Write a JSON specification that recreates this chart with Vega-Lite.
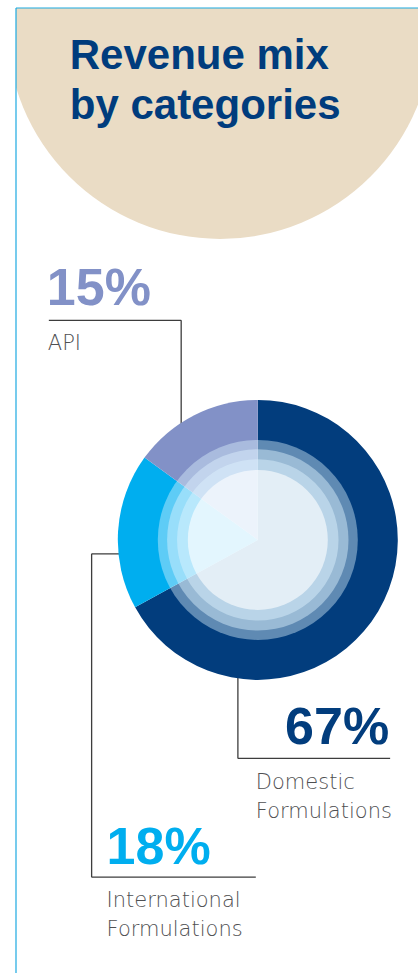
{
  "$schema": "https://vega.github.io/schema/vega-lite/v6.json",
  "width": 419,
  "height": 974,
  "autosize": {"type": "fit", "contains": "padding"},
  "padding": {"left": 15, "top": 7, "right": 0, "bottom": 0},
  "background": "white",
  "view": {"stroke": null},
  "datasets": {
    "mix": [
      {"category": "Domestic Formulations", "share": 0.67},
      {"category": "International Formulations", "share": 0.18},
      {"category": "API", "share": 0.15}
    ]
  },
  "data": {"values": [{}]},
  "layer": [
    {
      "mark": {"type": "arc", "radius": 213, "theta": 0, "theta2": 6.2832, "fill": "#eadcc5", "clip": true},
      "encoding": {
        "x": {"datum": 220, "type": "quantitative", "scale": {"domain": [15, 419], "nice": false, "zero": false}, "axis": null},
        "y": {"datum": 25, "type": "quantitative", "scale": {"domain": [7, 974], "nice": false, "zero": false, "reverse": true}, "axis": null}
      }
    },
    {
      "mark": {"type": "text", "text": ["Revenue mix", "by categories"], "align": "left", "baseline": "alphabetic", "font": "Liberation Sans", "fontWeight": "bold", "fontSize": 42, "lineHeight": 50, "color": "#003c7d"},
      "encoding": {
        "x": {"datum": 69, "type": "quantitative", "scale": {"domain": [15, 419], "nice": false, "zero": false}, "axis": null},
        "y": {"datum": 68, "type": "quantitative", "scale": {"domain": [7, 974], "nice": false, "zero": false, "reverse": true}, "axis": null}
      }
    },
    {
      "mark": {"type": "rule", "color": "#3d3d3d", "strokeWidth": 1.3},
      "encoding": {
        "x": {"datum": 48, "type": "quantitative", "scale": {"domain": [15, 419], "nice": false, "zero": false}, "axis": null},
        "x2": {"datum": 181},
        "y": {"datum": 320, "type": "quantitative", "scale": {"domain": [7, 974], "nice": false, "zero": false, "reverse": true}, "axis": null},
        "y2": {"datum": 320}
      }
    },
    {
      "mark": {"type": "rule", "color": "#3d3d3d", "strokeWidth": 1.3},
      "encoding": {
        "x": {"datum": 181, "type": "quantitative", "scale": {"domain": [15, 419], "nice": false, "zero": false}, "axis": null},
        "x2": {"datum": 181},
        "y": {"datum": 320, "type": "quantitative", "scale": {"domain": [7, 974], "nice": false, "zero": false, "reverse": true}, "axis": null},
        "y2": {"datum": 450}
      }
    },
    {
      "mark": {"type": "rule", "color": "#3d3d3d", "strokeWidth": 1.3},
      "encoding": {
        "x": {"datum": 91, "type": "quantitative", "scale": {"domain": [15, 419], "nice": false, "zero": false}, "axis": null},
        "x2": {"datum": 150},
        "y": {"datum": 554, "type": "quantitative", "scale": {"domain": [7, 974], "nice": false, "zero": false, "reverse": true}, "axis": null},
        "y2": {"datum": 554}
      }
    },
    {
      "mark": {"type": "rule", "color": "#3d3d3d", "strokeWidth": 1.3},
      "encoding": {
        "x": {"datum": 91, "type": "quantitative", "scale": {"domain": [15, 419], "nice": false, "zero": false}, "axis": null},
        "x2": {"datum": 91},
        "y": {"datum": 554, "type": "quantitative", "scale": {"domain": [7, 974], "nice": false, "zero": false, "reverse": true}, "axis": null},
        "y2": {"datum": 878}
      }
    },
    {
      "mark": {"type": "rule", "color": "#3d3d3d", "strokeWidth": 1.3},
      "encoding": {
        "x": {"datum": 91, "type": "quantitative", "scale": {"domain": [15, 419], "nice": false, "zero": false}, "axis": null},
        "x2": {"datum": 256},
        "y": {"datum": 878, "type": "quantitative", "scale": {"domain": [7, 974], "nice": false, "zero": false, "reverse": true}, "axis": null},
        "y2": {"datum": 878}
      }
    },
    {
      "mark": {"type": "rule", "color": "#3d3d3d", "strokeWidth": 1.3},
      "encoding": {
        "x": {"datum": 238, "type": "quantitative", "scale": {"domain": [15, 419], "nice": false, "zero": false}, "axis": null},
        "x2": {"datum": 238},
        "y": {"datum": 650, "type": "quantitative", "scale": {"domain": [7, 974], "nice": false, "zero": false, "reverse": true}, "axis": null},
        "y2": {"datum": 759}
      }
    },
    {
      "mark": {"type": "rule", "color": "#3d3d3d", "strokeWidth": 1.3},
      "encoding": {
        "x": {"datum": 238, "type": "quantitative", "scale": {"domain": [15, 419], "nice": false, "zero": false}, "axis": null},
        "x2": {"datum": 391},
        "y": {"datum": 759, "type": "quantitative", "scale": {"domain": [7, 974], "nice": false, "zero": false, "reverse": true}, "axis": null},
        "y2": {"datum": 759}
      }
    },
    {
      "data": {"name": "mix"},
      "mark": {"type": "arc", "radius": 140, "stroke": null},
      "encoding": {
        "theta": {"field": "share", "type": "quantitative", "stack": true},
        "order": {"field": "share", "sort": "descending"},
        "color": {
          "field": "category",
          "type": "nominal",
          "scale": {"domain": ["Domestic Formulations", "International Formulations", "API"], "range": ["#023d7d", "#00aeef", "#8291c7"]},
          "legend": null
        },
        "x": {"datum": 258, "type": "quantitative", "scale": {"domain": [15, 419], "nice": false, "zero": false}, "axis": null},
        "y": {"datum": 540, "type": "quantitative", "scale": {"domain": [7, 974], "nice": false, "zero": false, "reverse": true}, "axis": null}
      }
    },
    {
      "mark": {"type": "arc", "radius": 100, "theta": 0, "theta2": 6.2832, "fill": "#e0f5ff", "fillOpacity": 0.42},
      "encoding": {
        "x": {"datum": 258, "type": "quantitative", "scale": {"domain": [15, 419], "nice": false, "zero": false}, "axis": null},
        "y": {"datum": 540, "type": "quantitative", "scale": {"domain": [7, 974], "nice": false, "zero": false, "reverse": true}, "axis": null}
      }
    },
    {
      "mark": {"type": "arc", "radius": 90.7, "theta": 0, "theta2": 6.2832, "fill": "#e0f5ff", "fillOpacity": 0.45},
      "encoding": {
        "x": {"datum": 258, "type": "quantitative", "scale": {"domain": [15, 419], "nice": false, "zero": false}, "axis": null},
        "y": {"datum": 540, "type": "quantitative", "scale": {"domain": [7, 974], "nice": false, "zero": false, "reverse": true}, "axis": null}
      }
    },
    {
      "mark": {"type": "arc", "radius": 80.7, "theta": 0, "theta2": 6.2832, "fill": "#e0f5ff", "fillOpacity": 0.45},
      "encoding": {
        "x": {"datum": 258, "type": "quantitative", "scale": {"domain": [15, 419], "nice": false, "zero": false}, "axis": null},
        "y": {"datum": 540, "type": "quantitative", "scale": {"domain": [7, 974], "nice": false, "zero": false, "reverse": true}, "axis": null}
      }
    },
    {
      "mark": {"type": "arc", "radius": 70, "theta": 0, "theta2": 6.2832, "fill": "#ffffff", "fillOpacity": 0.6},
      "encoding": {
        "x": {"datum": 258, "type": "quantitative", "scale": {"domain": [15, 419], "nice": false, "zero": false}, "axis": null},
        "y": {"datum": 540, "type": "quantitative", "scale": {"domain": [7, 974], "nice": false, "zero": false, "reverse": true}, "axis": null}
      }
    },
    {
      "data": {"name": "mix"},
      "transform": [{"filter": "datum.category === 'API'"}],
      "mark": {"type": "text", "align": "left", "baseline": "alphabetic", "font": "Liberation Sans", "fontWeight": "bold", "fontSize": 52, "color": "#8291c7"},
      "encoding": {
        "text": {"field": "share", "type": "quantitative", "format": ".0%"},
        "x": {"datum": 46, "type": "quantitative", "scale": {"domain": [15, 419], "nice": false, "zero": false}, "axis": null},
        "y": {"datum": 305, "type": "quantitative", "scale": {"domain": [7, 974], "nice": false, "zero": false, "reverse": true}, "axis": null}
      }
    },
    {
      "data": {"name": "mix"},
      "transform": [{"filter": "datum.category === 'API'"}],
      "mark": {"type": "text", "align": "left", "baseline": "alphabetic", "font": "DejaVu Sans", "fontWeight": 300, "fontSize": 21, "lineHeight": 29, "lineBreak": " ", "color": "#4f5052"},
      "encoding": {
        "text": {"field": "category", "type": "nominal"},
        "x": {"datum": 47, "type": "quantitative", "scale": {"domain": [15, 419], "nice": false, "zero": false}, "axis": null},
        "y": {"datum": 350, "type": "quantitative", "scale": {"domain": [7, 974], "nice": false, "zero": false, "reverse": true}, "axis": null}
      }
    },
    {
      "data": {"name": "mix"},
      "transform": [{"filter": "datum.category === 'Domestic Formulations'"}],
      "mark": {"type": "text", "align": "right", "baseline": "alphabetic", "font": "Liberation Sans", "fontWeight": "bold", "fontSize": 52, "color": "#023d7d"},
      "encoding": {
        "text": {"field": "share", "type": "quantitative", "format": ".0%"},
        "x": {"datum": 390, "type": "quantitative", "scale": {"domain": [15, 419], "nice": false, "zero": false}, "axis": null},
        "y": {"datum": 745, "type": "quantitative", "scale": {"domain": [7, 974], "nice": false, "zero": false, "reverse": true}, "axis": null}
      }
    },
    {
      "data": {"name": "mix"},
      "transform": [{"filter": "datum.category === 'Domestic Formulations'"}],
      "mark": {"type": "text", "align": "left", "baseline": "alphabetic", "font": "DejaVu Sans", "fontWeight": 300, "fontSize": 21, "lineHeight": 29, "lineBreak": " ", "color": "#4f5052"},
      "encoding": {
        "text": {"field": "category", "type": "nominal"},
        "x": {"datum": 256, "type": "quantitative", "scale": {"domain": [15, 419], "nice": false, "zero": false}, "axis": null},
        "y": {"datum": 790, "type": "quantitative", "scale": {"domain": [7, 974], "nice": false, "zero": false, "reverse": true}, "axis": null}
      }
    },
    {
      "data": {"name": "mix"},
      "transform": [{"filter": "datum.category === 'International Formulations'"}],
      "mark": {"type": "text", "align": "left", "baseline": "alphabetic", "font": "Liberation Sans", "fontWeight": "bold", "fontSize": 52, "color": "#00aeef"},
      "encoding": {
        "text": {"field": "share", "type": "quantitative", "format": ".0%"},
        "x": {"datum": 106, "type": "quantitative", "scale": {"domain": [15, 419], "nice": false, "zero": false}, "axis": null},
        "y": {"datum": 865, "type": "quantitative", "scale": {"domain": [7, 974], "nice": false, "zero": false, "reverse": true}, "axis": null}
      }
    },
    {
      "data": {"name": "mix"},
      "transform": [{"filter": "datum.category === 'International Formulations'"}],
      "mark": {"type": "text", "align": "left", "baseline": "alphabetic", "font": "DejaVu Sans", "fontWeight": 300, "fontSize": 21, "lineHeight": 29, "lineBreak": " ", "color": "#4f5052"},
      "encoding": {
        "text": {"field": "category", "type": "nominal"},
        "x": {"datum": 106, "type": "quantitative", "scale": {"domain": [15, 419], "nice": false, "zero": false}, "axis": null},
        "y": {"datum": 908, "type": "quantitative", "scale": {"domain": [7, 974], "nice": false, "zero": false, "reverse": true}, "axis": null}
      }
    },
    {
      "mark": {"type": "rule", "color": "#1ba9e1", "strokeWidth": 1.2},
      "encoding": {
        "x": {"datum": 15, "type": "quantitative", "scale": {"domain": [15, 419], "nice": false, "zero": false}, "axis": null},
        "x2": {"datum": 419},
        "y": {"datum": 7, "type": "quantitative", "scale": {"domain": [7, 974], "nice": false, "zero": false, "reverse": true}, "axis": null},
        "y2": {"datum": 7}
      }
    },
    {
      "mark": {"type": "rule", "color": "#1ba9e1", "strokeWidth": 1.2},
      "encoding": {
        "x": {"datum": 15, "type": "quantitative", "scale": {"domain": [15, 419], "nice": false, "zero": false}, "axis": null},
        "x2": {"datum": 15},
        "y": {"datum": 7, "type": "quantitative", "scale": {"domain": [7, 974], "nice": false, "zero": false, "reverse": true}, "axis": null},
        "y2": {"datum": 974}
      }
    }
  ]
}
